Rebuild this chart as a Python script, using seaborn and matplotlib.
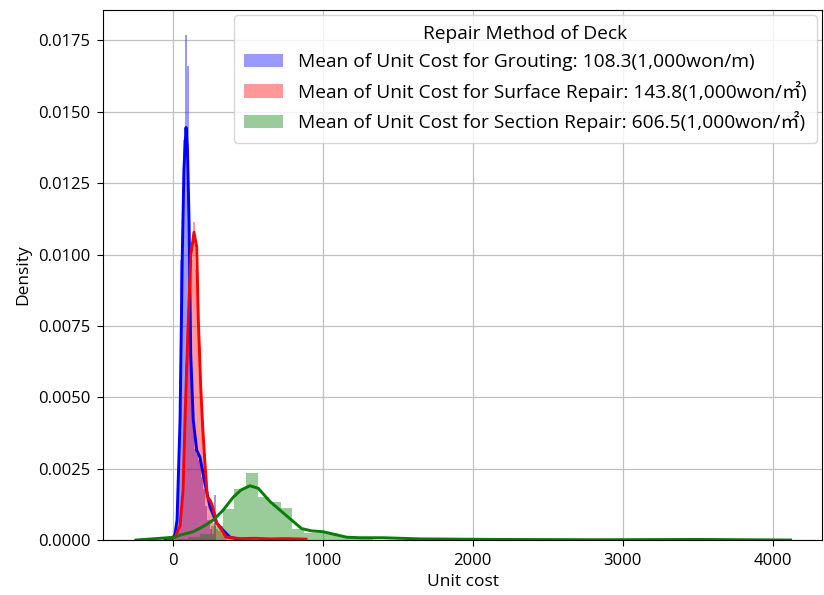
import matplotlib
matplotlib.use("Agg")
import matplotlib.pyplot as plt
import seaborn as sns
import numpy as np

# ---------------- data ----------------
labels = [
    "Mean of Unit Cost for Grouting: 108.3(1,000won/m)",
    "Mean of Unit Cost for Surface Repair: 143.8(1,000won/㎡)",
    "Mean of Unit Cost for Section Repair: 606.5(1,000won/㎡)",
]
colors = ["blue", "red", "green"]

# Grouting histogram (bin edges, density)
grout_edges = [5, 20, 35, 50, 65, 80, 95, 110, 125, 140, 155, 170, 185, 200,
               215, 230, 245, 260, 275, 290]
grout_dens = [0.0002, 0.0008, 0.0035, 0.0098, 0.0140, 0.01768, 0.0166, 0.0065,
              0.0040, 0.0032, 0.0030, 0.0028, 0.0022, 0.0018, 0.0012, 0.0007,
              0.0004, 0.0002, 0.00158]
# Grouting KDE
grout_kde_x = [-53, -7, 13, 27, 47, 62, 73, 87, 97, 107, 118, 135, 158, 180,
               213, 247, 291, 333, 380, 447]
grout_kde_y = [0.0, 0.00002, 0.0002, 0.0007, 0.0042, 0.0100, 0.0130, 0.01445,
               0.0136, 0.0112, 0.00655, 0.0042, 0.00315, 0.0029, 0.0020,
               0.00116, 0.0006, 0.00035, 0.0001, 0.00002]

# Surface repair histogram
surf_edges = [14, 31, 48, 65, 82, 99, 116, 133, 150, 167, 184, 201, 218, 235,
              252, 269, 286, 303, 320, 337, 354]
surf_dens = [0.0001, 0.0003, 0.0010, 0.0030, 0.0062, 0.0085, 0.0098, 0.01113,
             0.0095, 0.0068, 0.0043, 0.0030, 0.0017, 0.0014, 0.0011, 0.0006,
             0.0004, 0.0003, 0.0002, 0.0001]
# Surface repair KDE
surf_kde_x = [-33, 13, 47, 67, 80, 102, 120, 140, 158, 169, 185, 198, 213, 229,
              247, 265, 291, 325, 353, 447, 550, 650, 750, 887]
surf_kde_y = [0.00003, 0.0001, 0.0005, 0.00175, 0.0042, 0.0077, 0.0100,
              0.01078, 0.01026, 0.0077, 0.00536, 0.00396, 0.0027, 0.0015,
              0.0014, 0.00116, 0.0006, 0.00035, 0.0001, 0.00005, 0.00006,
              0.00004, 0.00005, 0.00003]

# Section repair histogram
sect_edges = [25, 102, 179, 256, 333, 410, 487, 564, 641, 718, 795, 872, 949,
              1026, 1103, 1180, 1257, 1334]
sect_dens = [0.00005, 0.0001, 0.0002, 0.0005, 0.0011, 0.00177, 0.00233,
             0.00152, 0.00134, 0.00113, 0.0004, 0.00025, 0.00025, 0.00025,
             0.0001, 0.0001, 0.00005]
# Section repair KDE
sect_kde_x = [-247, -87, 13, 47, 133, 200, 269, 335, 402, 453, 513, 569, 647,
              713, 791, 858, 925, 1002, 1091, 1158, 1247, 1400, 1647, 2180,
              2847, 3513, 4120]
sect_kde_y = [0.0, 0.00006, 0.0001, 0.00017, 0.00029, 0.00047, 0.0007,
              0.00105, 0.0015, 0.00175, 0.0019, 0.00181, 0.00135, 0.00105,
              0.0007, 0.0004, 0.00032, 0.00029, 0.00018, 0.0001, 0.00008,
              0.00008, 0.00004, 0.00002, 0.00001, 0.00002, 0.0]

# ---------------- plotting ----------------
plt.rcParams["font.family"] = ["Open Sans", "Noto Sans CJK KR", "DejaVu Sans"]
plt.rcParams["axes.unicode_minus"] = False

fig, ax = plt.subplots(figsize=(8.24, 5.95), dpi=100)
fig.subplots_adjust(left=0.125, right=0.9976, top=0.983, bottom=0.0924)

hists = [(grout_edges, grout_dens), (surf_edges, surf_dens), (sect_edges, sect_dens)]
kdes = [(grout_kde_x, grout_kde_y), (surf_kde_x, surf_kde_y), (sect_kde_x, sect_kde_y)]

for (edges, dens), c, lab in zip(hists, colors, labels):
    sns.histplot(x=edges[:-1], weights=dens, bins=edges, stat="count",
                 color=c, alpha=0.4, linewidth=0, ax=ax, label=lab)
for (kx, ky), c in zip(kdes, colors):
    sns.lineplot(x=kx, y=ky, color=c, linewidth=2.1, ax=ax, sort=False,
                 estimator=None)

ax.set_xlim(-467, 4330)
ax.set_ylim(0, 0.01856)
ax.set_xticks([0, 1000, 2000, 3000, 4000])
ax.set_yticks(np.arange(0, 0.0176, 0.0025))
ax.yaxis.set_major_formatter(matplotlib.ticker.FormatStrFormatter("%.4f"))
ax.grid(True, color="#c0c0c0", linewidth=0.9)
ax.set_axisbelow(True)
ax.tick_params(labelsize=12, length=4.5, pad=4.5)
ax.set_xlabel("Unit cost", fontsize=12.5, labelpad=4)
ax.set_ylabel("Density", fontsize=12.5, labelpad=5)

handles = [h for h in ax.containers]
leg = ax.legend(handles=handles, labels=labels, title="Repair Method of Deck",
                loc="upper right", fontsize=13.8, title_fontsize=13.8,
                borderaxespad=0.25, labelspacing=0.5, borderpad=0.55)

fig.savefig("out.png", dpi=100)
